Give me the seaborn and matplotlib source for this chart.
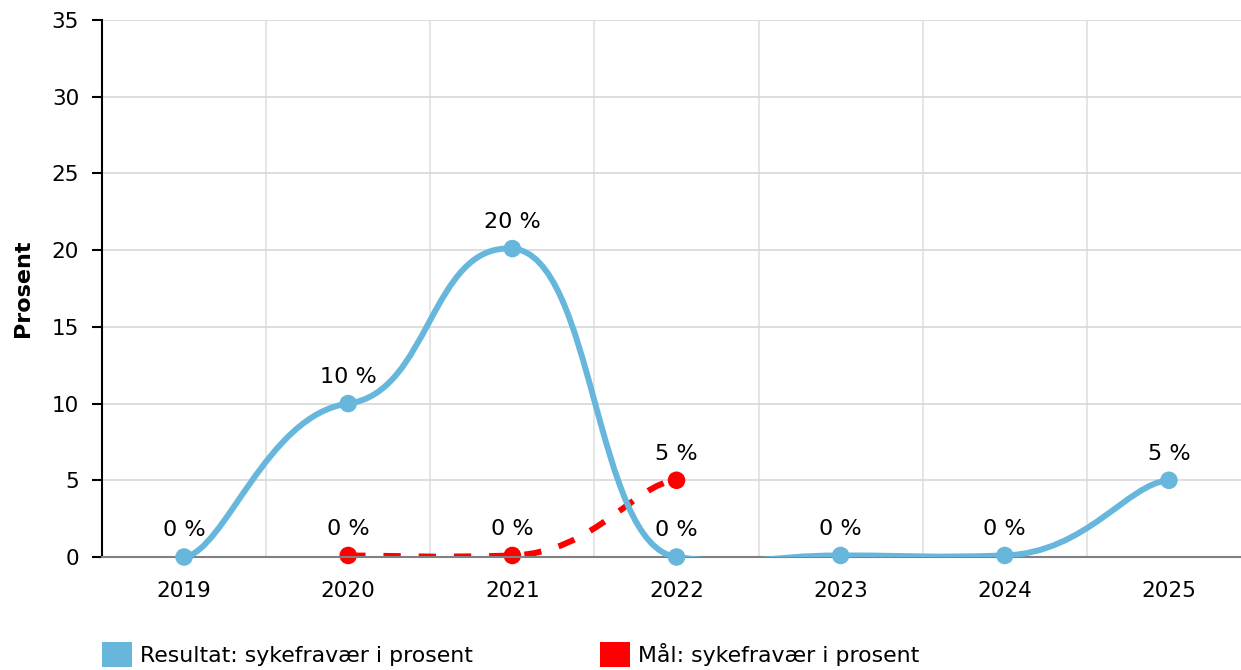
import numpy as np
import pandas as pd
import seaborn as sns
import matplotlib.pyplot as plt
from matplotlib.path import Path
from matplotlib.patches import PathPatch, Patch

years = ['2019', '2020', '2021', '2022', '2023', '2024', '2025']
resultat = [0.0, 10.0, 20.1, 0.0, 0.1, 0.1, 5.0]
maal_years = ['2020', '2021', '2022']
maal = [0.1, 0.1, 5.0]
y_ticks = [0, 5, 10, 15, 20, 25, 30, 35]

BLUE = '#67b7dc'
RED = '#ff0000'
TENSION_X = 0.75
TENSION_Y = 0.965


def tension_path(xs, ys, tx=TENSION_X, ty=TENSION_Y):
    # catmull-rom style smoothing with separate x / y tension
    ax_, ay_ = 1 - tx, 1 - ty
    pts = list(zip(xs, ys))
    n = len(pts)
    verts = [pts[0]]
    codes = [Path.MOVETO]
    for i in range(n - 1):
        p0 = pts[i - 1] if i > 0 else pts[i]
        p1 = pts[i]
        p2 = pts[i + 1]
        p3 = pts[i + 2] if i + 2 < n else pts[i + 1]
        c1 = (p1[0] + ax_ * (p2[0] - p0[0]), p1[1] + ay_ * (p2[1] - p0[1]))
        c2 = (p2[0] - ax_ * (p3[0] - p1[0]), p2[1] - ay_ * (p3[1] - p1[1]))
        verts += [c1, c2, p2]
        codes += [Path.CURVE4] * 3
    return Path(verts, codes)


df = pd.DataFrame({'year': years, 'value': resultat, 'x': range(len(years))})
df_maal = pd.DataFrame({'year': maal_years, 'value': maal,
                        'x': [years.index(y) for y in maal_years]})

sns.set_style('white')
plt.rcParams['font.family'] = ['DejaVu Sans']
plt.rcParams['text.color'] = 'black'
plt.rcParams['axes.labelcolor'] = 'black'
plt.rcParams['xtick.color'] = 'black'
plt.rcParams['ytick.color'] = 'black'

fig = plt.figure(figsize=(12.41, 6.70), dpi=100)
ax = fig.add_axes([102 / 1241, 113 / 670, 1149 / 1241, 537 / 670])

# red target line (behind blue)
ax.add_patch(PathPatch(tension_path(df_maal['x'].tolist(), df_maal['value'].tolist()),
                       facecolor='none', edgecolor=RED, lw=4.3,
                       linestyle=(0, (2.9, 3.0)), capstyle='butt', zorder=3))
sns.scatterplot(data=df_maal, x='x', y='value', color=RED, s=160,
                edgecolor='none', ax=ax, zorder=4, clip_on=False)

ax.add_patch(PathPatch(tension_path(df['x'].tolist(), df['value'].tolist()),
                       facecolor='none', edgecolor=BLUE, lw=4.3, zorder=5,
                       capstyle='round'))
sns.scatterplot(data=df, x='x', y='value', color=BLUE, s=160,
                edgecolor='none', ax=ax, zorder=6, clip_on=False)

for d in (df, df_maal):
    for _, r in d.iterrows():
        ax.annotate(f"{r['value']:.0f} %", (r['x'], r['value']), xytext=(0, 12),
                    textcoords='offset points', ha='center', va='bottom',
                    fontsize=16, color='black', zorder=7)

ax.set_xlim(-0.5, 6.5)
ax.set_ylim(0, 35)
ax.set_xticks(range(len(years)))
ax.set_xticklabels(years)
ax.set_xticks(np.arange(0.5, 6.5, 1), minor=True)
ax.set_yticks(y_ticks)
ax.tick_params(axis='x', which='major', length=9, width=1, color='#999999',
               labelsize=15.5, pad=8)
ax.tick_params(axis='x', which='minor', length=0)
ax.tick_params(axis='y', length=7.5, width=1.5, color='black', labelsize=15.5,
               pad=9, left=True)
ax.grid(axis='y', which='major', color='#d8d8d8', lw=1.2)
ax.grid(axis='x', which='minor', color='#e0e0e0', lw=1.2)
ax.set_axisbelow(True)

for s in ['top', 'right']:
    ax.spines[s].set_visible(False)
ax.spines['left'].set_color('black')
ax.spines['left'].set_linewidth(1.5)
ax.spines['bottom'].set_color('#808080')
ax.spines['bottom'].set_linewidth(1.5)
ax.spines['bottom'].set_zorder(4)

ax.set_xlabel('')
ax.set_ylabel('Prosent', fontsize=16, fontweight='bold')
ax.yaxis.set_label_coords(-69 / 1149, 0.5)

handles = [Patch(facecolor=BLUE, edgecolor='none'), Patch(facecolor=RED, edgecolor='none')]
labels = ['Resultat: sykefravær i prosent', 'Mål: sykefravær i prosent']
fig.legend(handles, labels, loc='upper left', bbox_to_anchor=(102 / 1241, 1 - 642 / 670),
           ncol=2, frameon=False, fontsize=15.8, handlelength=1.36, handleheight=1.36,
           handletextpad=0.36, columnspacing=5.8, borderaxespad=0, borderpad=0)

fig.savefig('out.png', dpi=100)
